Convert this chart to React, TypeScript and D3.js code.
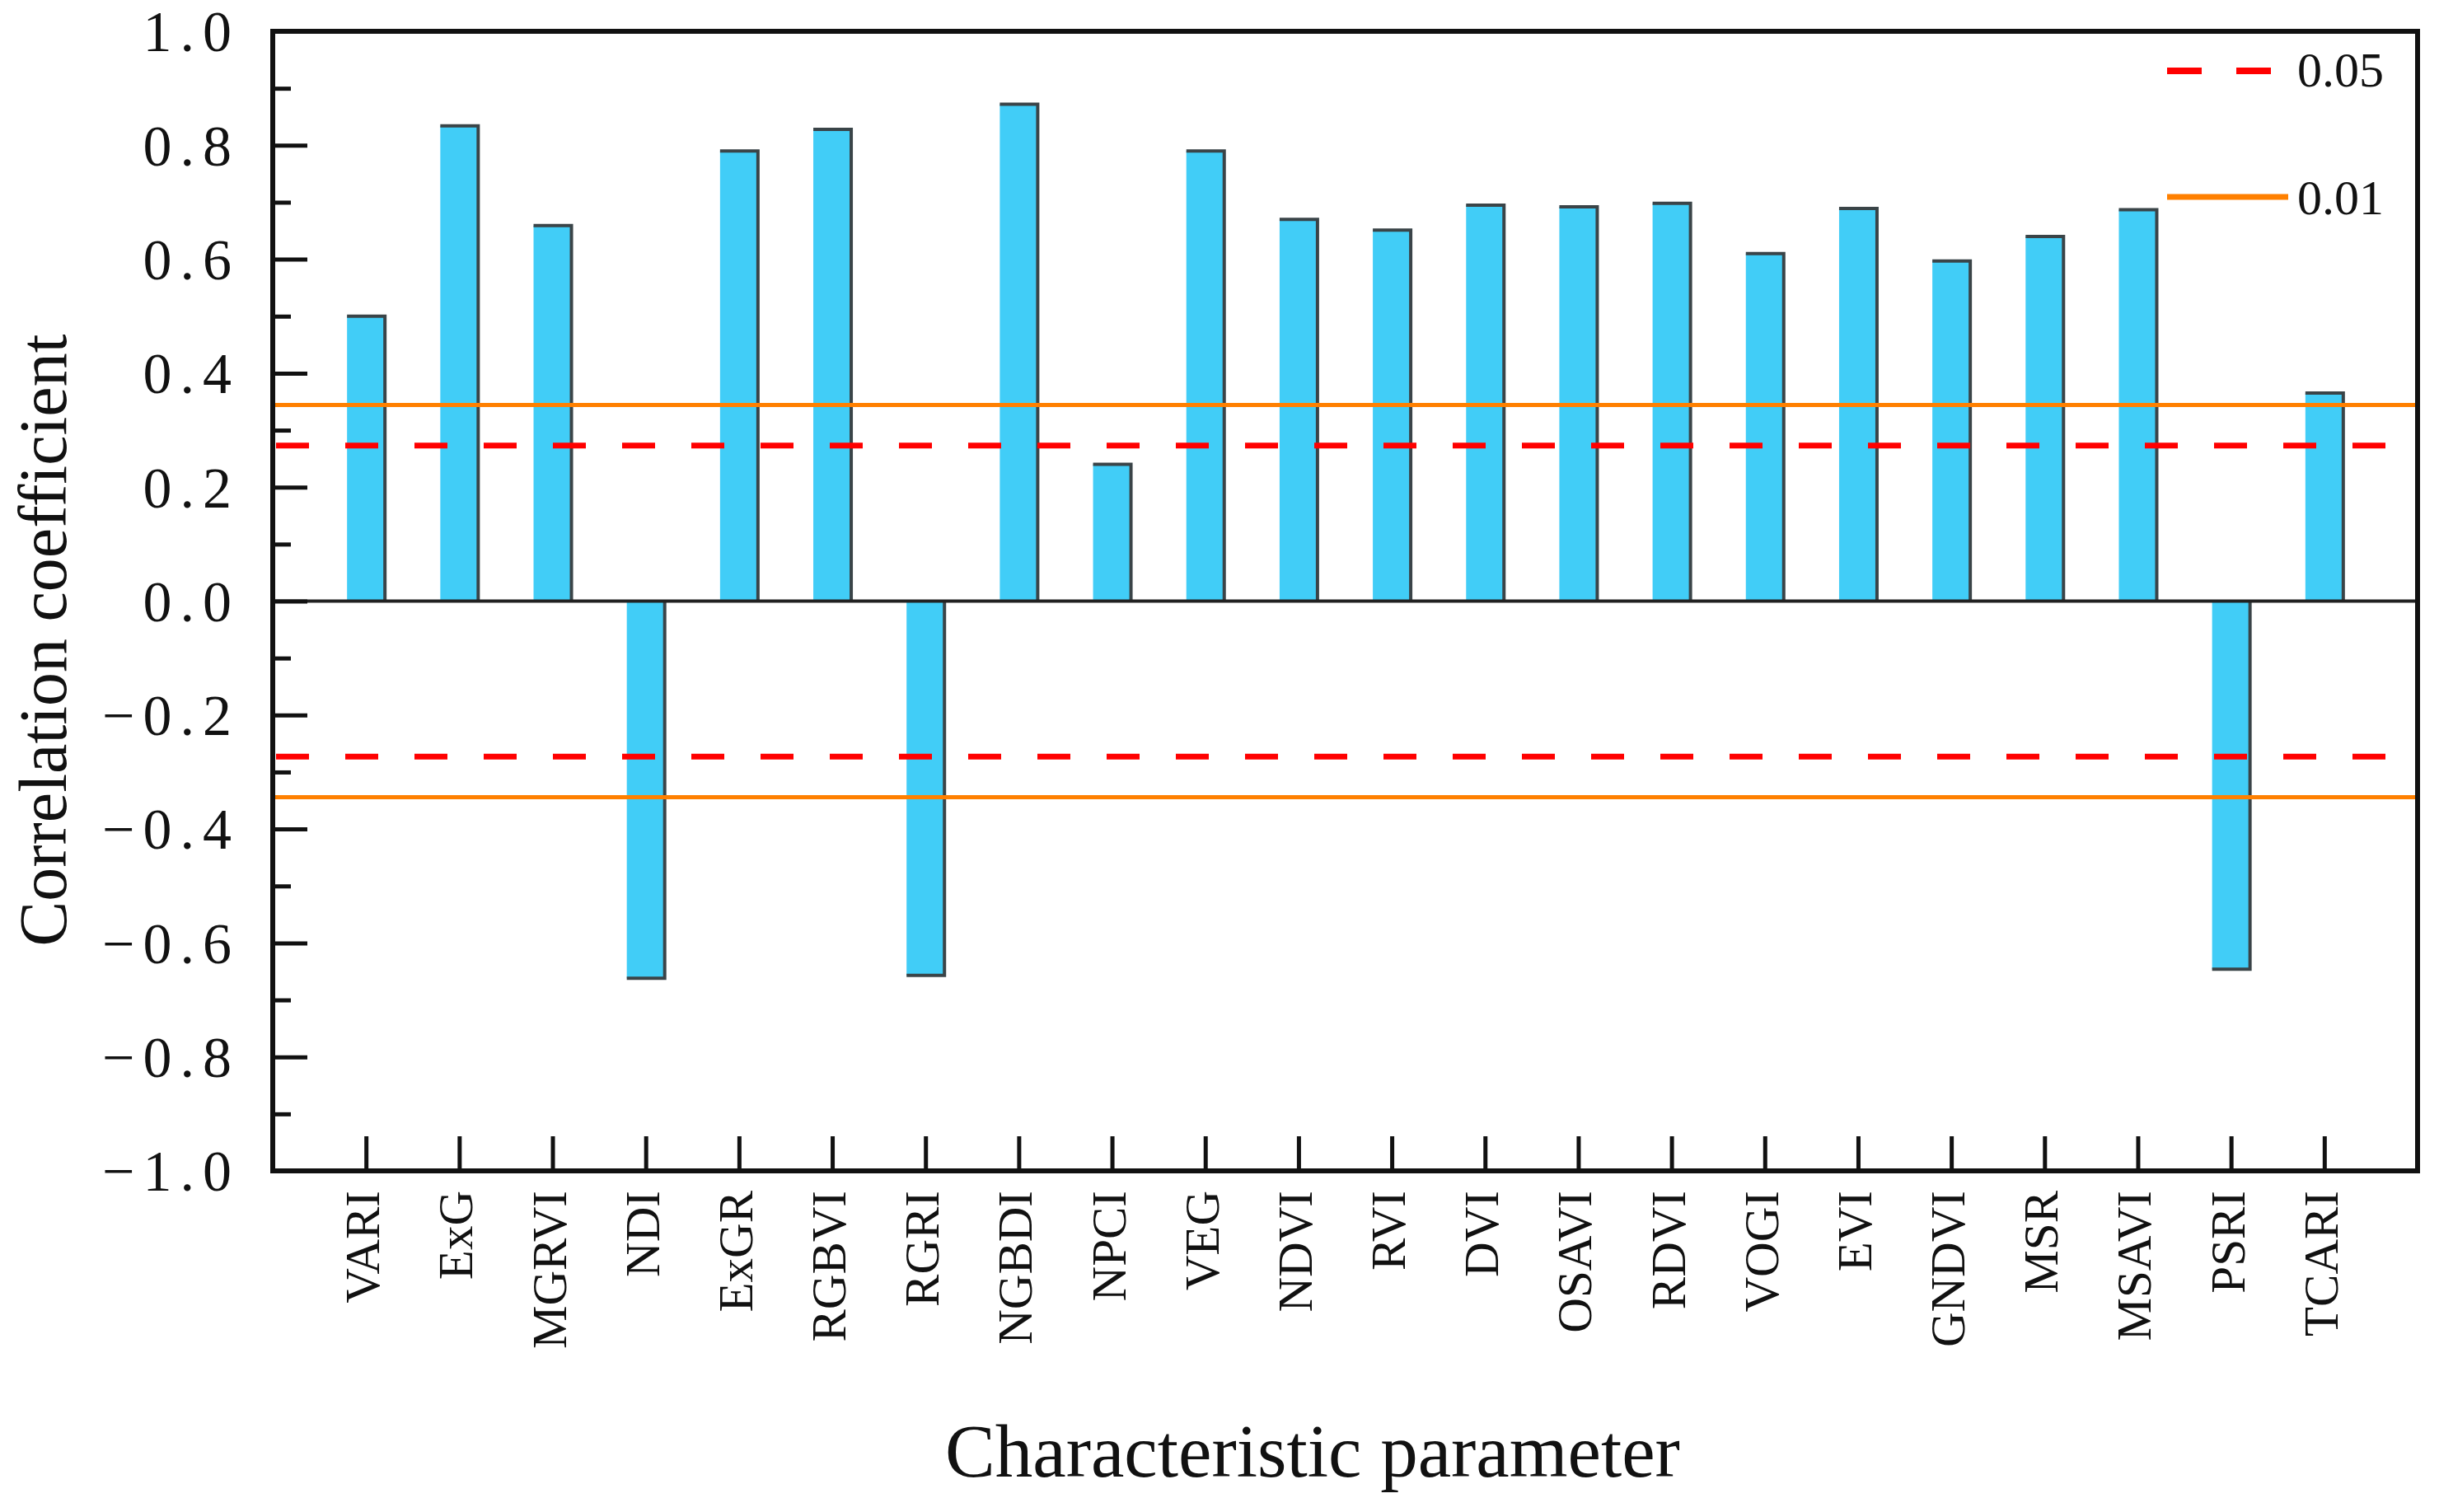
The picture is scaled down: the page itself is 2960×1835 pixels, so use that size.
import React, { useEffect, useRef } from "react";
import * as d3 from "d3";

const categories = ["VARI","ExG","MGRVI","NDI","ExGR","RGBVI","RGRI","NGBDI","NPCI","VEG","NDVI","RVI","DVI","OSAVI","RDVI","VOGI","EVI","GNDVI","MSR","MSAVI","PSRI","TCARI"];
const values = [0.50,0.834,0.659,-0.662,0.790,0.828,-0.657,0.872,0.240,0.790,0.670,0.651,0.695,0.692,0.698,0.610,0.689,0.597,0.640,0.687,-0.646,0.365];
const majorTicks = [-1.0,-0.8,-0.6,-0.4,-0.2,0.0,0.2,0.4,0.6,0.8,1.0];
const minorTicks = [-0.9,-0.7,-0.5,-0.3,-0.1,0.1,0.3,0.5,0.7,0.9];
const thresholdLabels = ["0.05","0.01"];
const thresholdValues = [0.273,0.344];

const W = 2960, H = 1835;
const M = { left: 331, right: 2934, top: 38, bottom: 1421 };
const FONT = "'Liberation Serif', 'Times New Roman', serif";

export default function App() {
  const ref = useRef<SVGSVGElement>(null);
  useEffect(() => {
    const svg = d3.select(ref.current);
    svg.selectAll("*").remove();
    const x = d3.scalePoint<string>().domain(categories).range([M.left, M.right]).padding(1);
    const y = d3.scaleLinear().domain([-1, 1]).range([M.bottom, M.top]);
    const bw = 46;

    svg.append("rect").attr("width", W).attr("height", H).attr("fill", "#fff");

    // bars
    const g = svg.append("g");
    categories.forEach((c, i) => {
      const v = values[i];
      const cx = x(c)!;
      const y0 = y(0), y1 = y(v);
      g.append("rect")
        .attr("x", cx - bw / 2).attr("width", bw)
        .attr("y", Math.min(y0, y1)).attr("height", Math.abs(y1 - y0))
        .attr("fill", "#41CDF7");
      g.append("path")
        .attr("d", `M${cx - bw / 2},${y1}H${cx + bw / 2}V${y0}`)
        .attr("fill", "none").attr("stroke", "#3a4448").attr("stroke-width", 4);
    });

    // zero line
    svg.append("line").attr("x1", M.left).attr("x2", M.right).attr("y1", y(0)).attr("y2", y(0))
      .attr("stroke", "#222").attr("stroke-width", 4);

    // threshold lines
    [1, -1].forEach((s) => {
      svg.append("line").attr("x1", M.left).attr("x2", M.right)
        .attr("y1", y(s * thresholdValues[0])).attr("y2", y(s * thresholdValues[0]))
        .attr("stroke", "#FF0000").attr("stroke-width", 7).attr("stroke-dasharray", "40,44").attr("stroke-dashoffset", -4);
      svg.append("line").attr("x1", M.left).attr("x2", M.right)
        .attr("y1", y(s * thresholdValues[1])).attr("y2", y(s * thresholdValues[1]))
        .attr("stroke", "#FF8000").attr("stroke-width", 5);
    });

    // y axis major
    const ya = svg.append("g").attr("transform", `translate(${M.left},0)`)
      .call(d3.axisLeft(y).tickValues(majorTicks).tickSizeInner(-42).tickSizeOuter(0).tickPadding(40).tickFormat(d3.format(".1f") as any));
    ya.select(".domain").remove();
    ya.selectAll(".tick line").attr("stroke", "#111").attr("stroke-width", 5);
    ya.selectAll(".tick text").attr("font-family", FONT).attr("font-size", 70).attr("letter-spacing", 10).attr("fill", "#111").attr("dy", "0.34em");
    const ym = svg.append("g").attr("transform", `translate(${M.left},0)`)
      .call(d3.axisLeft(y).tickValues(minorTicks).tickSizeInner(-22).tickSizeOuter(0).tickFormat(() => ""));
    ym.select(".domain").remove();
    ym.selectAll(".tick line").attr("stroke", "#111").attr("stroke-width", 5);

    // x axis
    const xa = svg.append("g").attr("transform", `translate(0,${M.bottom})`)
      .call(d3.axisBottom(x).tickSizeInner(-42).tickSizeOuter(0).tickFormat(() => ""));
    xa.select(".domain").remove();
    xa.selectAll(".tick line").attr("stroke", "#111").attr("stroke-width", 5);
    const lab = svg.append("g");
    categories.forEach((c) => {
      const cx = x(c)! + 16;
      lab.append("text").attr("transform", `translate(${cx},${M.bottom + 24}) rotate(-90)`)
        .attr("text-anchor", "end").attr("font-family", FONT).attr("font-size", 59).attr("fill", "#111").text(c);
    });

    // frame
    svg.append("rect").attr("x", M.left).attr("y", M.top).attr("width", M.right - M.left).attr("height", M.bottom - M.top)
      .attr("fill", "none").attr("stroke", "#111").attr("stroke-width", 6);

    // titles
    svg.append("text").attr("x", 1593).attr("y", 1792).attr("text-anchor", "middle")
      .attr("font-family", FONT).attr("font-size", 91).attr("fill", "#111").text("Characteristic parameter");
    svg.append("text").attr("transform", `translate(80,777) rotate(-90)`).attr("text-anchor", "middle")
      .attr("font-family", FONT).attr("font-size", 82).attr("fill", "#111").text("Correlation coefficient");

    // legend
    const lg = svg.append("g");
    lg.append("line").attr("x1", 2630).attr("x2", 2756).attr("y1", 86).attr("y2", 86)
      .attr("stroke", "#FF0000").attr("stroke-width", 8).attr("stroke-dasharray", "42,42");
    lg.append("text").attr("x", 2788).attr("y", 105).attr("font-family", FONT).attr("font-size", 60).attr("fill", "#111").text(thresholdLabels[0]);
    lg.append("line").attr("x1", 2630).attr("x2", 2777).attr("y1", 239).attr("y2", 239)
      .attr("stroke", "#FF8000").attr("stroke-width", 7);
    lg.append("text").attr("x", 2788).attr("y", 260).attr("font-family", FONT).attr("font-size", 60).attr("fill", "#111").text(thresholdLabels[1]);
  }, []);
  return (
    <svg ref={ref} width={W} height={H} style={{ position: "absolute", left: 0, top: 0, display: "block" }} />
  );
}
